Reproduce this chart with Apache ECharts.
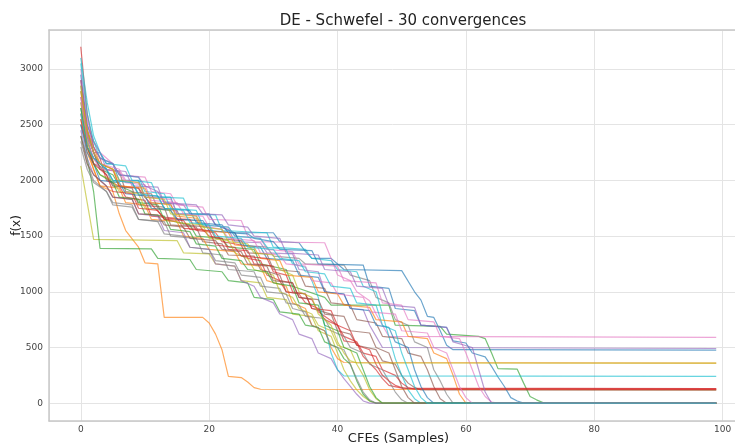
<!DOCTYPE html>
<html><head><meta charset="utf-8">
<script src="https://cdn.jsdelivr.net/npm/echarts@6/dist/echarts.min.js"></script>
<style>html,body{margin:0;padding:0;background:#fff}#c{width:735px;height:444px}</style>
</head><body><div id="c"></div>
<script>
const titleText = "DE - Schwefel - 30 convergences";
const xName = "CFEs (Samples)";
const yName = "f(x)";
const palette = ["#1f77b4","#ff7f0e","#2ca02c","#d62728","#9467bd","#8c564b","#e377c2","#7f7f7f","#bcbd22","#17becf"];

const s0 = [[0,2950],[1,2500],[2,2350],[4,2150],[5,2150],[6,2000],[9,2000],[10,1850],[14,1850],[15,1700],[20,1700],[21,1600],[24,1530],[30,1530],[31,1450],[34,1440],[35,1360],[36,1300],[39,1300],[41,1200],[50,1190],[52,1000],[53,925],[54,780],[55,770],[56,650],[57,520],[58,480],[99,476]];
const s1 = [[0,2600],[1,2300],[2,2100],[3,1950],[5,1900],[6,1700],[7,1550],[9,1400],[10,1260],[12,1250],[13,770],[19,770],[20,720],[21,620],[22,480],[23,240],[25,230],[26,190],[27,140],[28,125],[99,120]];
const s2 = [[0,2800],[1,2450],[2,2250],[3,2100],[5,2050],[6,1950],[8,1900],[9,1800],[12,1780],[13,1650],[17,1600],[18,1500],[22,1480],[23,1400],[27,1380],[28,1250],[32,1200],[33,1050],[38,950],[39,880],[48,880],[49,700],[56,690],[57,620],[62,600],[63,580],[64,450],[65,310],[68,305],[69,180],[70,60],[71,30],[72,5],[73,0],[99,0]];
const s3 = [[0,3200],[1,2600],[2,2300],[3,2200],[4,2000],[6,1950],[7,1850],[10,1820],[11,1680],[15,1660],[16,1570],[19,1560],[20,1500],[22,1480],[23,1380],[26,1370],[27,1250],[30,1230],[31,1100],[33,1080],[34,950],[36,930],[37,820],[40,700],[41,560],[43,540],[44,420],[46,300],[47,220],[48,160],[50,135],[99,130]];
const s4 = [[0,2700],[1,2400],[2,2250],[3,2250],[4,2100],[7,2080],[8,1950],[12,1940],[13,1800],[16,1780],[17,1700],[20,1690],[21,1600],[23,1560],[24,1450],[28,1440],[29,1350],[33,1340],[34,1200],[37,1180],[38,1000],[41,980],[42,850],[44,840],[45,700],[46,600],[47,500],[99,491]];
const s5 = [[0,2500],[1,2300],[2,2200],[4,2050],[5,1950],[8,1930],[9,1780],[13,1760],[14,1600],[18,1580],[19,1450],[22,1430],[23,1330],[27,1320],[28,1200],[31,1150],[32,1000],[35,980],[36,850],[39,800],[40,650],[42,620],[43,520],[46,480],[47,380],[49,350],[50,250],[51,180],[52,140],[53,120],[99,118]];
const s6 = [[0,3000],[1,2550],[2,2350],[3,2250],[5,2150],[6,2050],[10,2030],[11,1900],[14,1880],[15,1780],[19,1760],[20,1650],[25,1640],[26,1500],[27,1450],[38,1440],[39,1300],[40,1150],[42,1100],[43,1000],[45,920],[46,800],[47,700],[48,600],[99,590]];
const s7 = [[0,2850],[1,2400],[2,2150],[4,2100],[5,1950],[9,1930],[10,1800],[14,1790],[15,1650],[18,1640],[19,1550],[24,1530],[25,1420],[29,1400],[30,1320],[34,1300],[35,1250],[41,1240],[42,1150],[45,1100],[46,950],[48,900],[49,750],[51,700],[52,550],[54,500],[55,300],[56,200],[57,80],[58,0],[99,0]];
const s8 = [[0,2130],[1,1800],[2,1470],[15,1460],[16,1350],[20,1340],[21,1250],[24,1230],[25,1100],[28,1080],[29,950],[32,930],[33,800],[36,780],[37,650],[39,600],[40,450],[41,300],[42,200],[43,120],[44,60],[45,20],[46,0],[99,0]];
const s9 = [[0,3100],[1,2700],[2,2400],[3,2250],[4,2150],[7,2130],[8,2000],[11,1980],[12,1850],[16,1840],[17,1700],[21,1690],[22,1550],[29,1530],[30,1400],[35,1380],[36,1300],[39,1280],[40,1200],[43,1180],[44,1050],[46,1000],[47,800],[48,600],[49,400],[50,250],[51,120],[52,40],[53,0],[99,0]];
const s10 = [[0,2650],[1,2350],[2,2200],[4,2100],[5,2000],[8,1980],[9,1870],[12,1860],[13,1750],[17,1730],[18,1620],[22,1600],[23,1530],[26,1520],[27,1480],[30,1450],[31,1380],[36,1370],[37,1250],[44,1240],[45,1050],[48,1030],[49,850],[52,830],[53,700],[57,680],[58,560],[60,540],[61,450],[63,415],[64,330],[65,235],[66,150],[67,50],[68,20],[69,0],[99,0]];
const s11 = [[0,2550],[1,2250],[2,2100],[3,1950],[6,1930],[7,1800],[10,1780],[11,1650],[15,1630],[16,1500],[19,1480],[20,1380],[24,1360],[25,1250],[28,1230],[29,1100],[32,1050],[33,900],[35,850],[36,700],[38,650],[39,500],[40,400],[41,365],[99,360]];
const s12 = [[0,2400],[1,2200],[2,1900],[3,1390],[11,1385],[12,1300],[17,1290],[18,1200],[22,1180],[23,1100],[26,1080],[27,950],[30,930],[31,820],[34,800],[35,700],[37,680],[38,550],[40,500],[41,400],[42,350],[43,200],[44,80],[45,20],[46,0],[99,0]];
const s13 = [[0,2900],[1,2450],[2,2250],[3,2150],[5,2100],[6,1950],[9,1930],[10,1850],[13,1660],[17,1650],[18,1550],[21,1530],[22,1450],[25,1420],[26,1300],[28,1280],[29,1150],[31,1100],[32,1000],[34,980],[35,900],[37,850],[38,750],[40,700],[41,600],[43,550],[44,450],[46,420],[47,300],[49,250],[50,180],[51,140],[52,125],[99,123]];
const s14 = [[0,2450],[1,2200],[2,2050],[4,1950],[5,1850],[8,1830],[9,1700],[12,1680],[13,1550],[16,1530],[17,1400],[20,1380],[21,1250],[24,1230],[25,1100],[27,1050],[28,950],[30,900],[31,800],[33,750],[34,620],[36,580],[37,450],[39,400],[40,300],[41,220],[42,150],[43,80],[44,20],[45,0],[99,0]];
const s15 = [[0,2750],[1,2400],[2,2250],[3,2100],[6,2080],[7,1900],[11,1880],[12,1750],[15,1730],[16,1600],[20,1580],[21,1480],[25,1460],[26,1350],[29,1340],[30,1200],[34,1180],[35,1050],[38,1030],[39,900],[42,880],[43,750],[46,720],[47,600],[50,580],[51,450],[53,420],[54,300],[55,150],[56,40],[57,0],[99,0]];
const s16 = [[0,2600],[1,2350],[2,2200],[3,2100],[6,2080],[7,1980],[10,1960],[11,1820],[15,1800],[16,1700],[18,1680],[19,1600],[23,1580],[24,1500],[28,1480],[29,1380],[33,1360],[34,1250],[40,1230],[41,1100],[46,1080],[47,900],[50,880],[51,750],[55,730],[56,600],[59,580],[60,450],[61,300],[62,150],[63,60],[64,10],[65,0],[99,0]];
const s17 = [[0,2350],[1,2150],[2,2000],[4,1900],[5,1800],[8,1780],[9,1650],[13,1630],[14,1500],[18,1480],[19,1350],[22,1330],[23,1200],[27,1180],[28,1050],[31,1030],[32,900],[34,880],[35,780],[38,760],[39,650],[41,600],[42,500],[44,450],[45,350],[47,300],[48,200],[49,100],[50,30],[51,0],[99,0]];
const s18 = [[0,2700],[1,2350],[2,2150],[3,2050],[5,2000],[6,1900],[9,1880],[10,1750],[14,1730],[15,1620],[19,1600],[20,1480],[23,1460],[24,1350],[26,1300],[27,1200],[30,1150],[31,1000],[33,950],[34,850],[36,800],[37,700],[39,650],[40,520],[42,480],[43,350],[44,250],[45,120],[46,40],[47,0],[99,0]];
const s19 = [[0,3050],[1,2600],[2,2350],[3,2200],[5,2150],[6,2050],[9,2030],[10,1900],[13,1880],[14,1750],[18,1730],[19,1600],[23,1580],[24,1500],[28,1480],[29,1400],[32,1380],[33,1250],[35,1220],[36,1100],[37,950],[38,700],[39,450],[40,300],[41,245],[99,240]];
const s20 = [[0,2500],[1,2250],[2,2150],[3,2000],[6,1980],[7,1880],[10,1860],[11,1750],[14,1730],[15,1650],[19,1640],[20,1550],[24,1530],[25,1420],[28,1400],[29,1300],[33,1280],[34,1150],[37,1130],[38,1000],[41,980],[42,850],[45,830],[46,700],[48,680],[49,550],[51,500],[52,300],[53,150],[54,50],[55,0],[99,0]];
const s21 = [[0,2800],[1,2450],[2,2300],[3,2150],[5,2100],[6,1950],[10,1930],[11,1800],[14,1780],[15,1680],[18,1660],[19,1550],[23,1530],[24,1420],[27,1400],[28,1300],[31,1280],[32,1150],[36,1130],[37,1000],[40,980],[41,880],[45,860],[46,750],[50,730],[51,600],[54,580],[55,450],[57,400],[58,250],[59,80],[60,0],[99,0]];
const s22 = [[0,2650],[1,2300],[2,2150],[3,2050],[5,1980],[6,1850],[9,1830],[10,1700],[13,1680],[14,1560],[17,1540],[18,1430],[21,1410],[22,1300],[25,1280],[26,1200],[29,1180],[30,1080],[33,1050],[34,900],[37,880],[38,700],[40,650],[41,500],[43,450],[44,300],[45,150],[46,50],[47,0],[99,0]];
const s23 = [[0,2550],[1,2300],[2,2150],[4,2050],[5,1900],[8,1880],[9,1750],[12,1730],[13,1650],[16,1640],[17,1560],[20,1550],[21,1420],[24,1400],[25,1320],[29,1300],[30,1180],[32,1150],[33,1000],[35,980],[36,850],[39,830],[40,700],[42,650],[43,520],[45,480],[46,350],[47,250],[48,200],[49,160],[50,140],[51,130],[99,128]];
const s24 = [[0,2900],[1,2500],[2,2300],[3,2200],[5,2150],[6,2050],[9,2030],[10,1950],[12,1900],[13,1800],[18,1780],[19,1700],[22,1690],[23,1600],[26,1580],[27,1500],[31,1480],[32,1350],[37,1330],[38,1200],[42,1180],[43,1050],[47,1030],[48,880],[52,860],[53,700],[57,680],[58,550],[61,500],[62,300],[63,100],[64,0],[99,0]];
const s25 = [[0,2400],[1,2150],[2,2050],[4,1950],[5,1850],[8,1830],[9,1700],[12,1690],[13,1600],[16,1580],[17,1480],[21,1460],[22,1380],[25,1360],[26,1250],[29,1230],[30,1100],[33,1080],[34,950],[37,930],[38,800],[41,780],[42,650],[45,630],[46,500],[48,450],[49,300],[50,150],[51,50],[52,0],[99,0]];
const s26 = [[0,2750],[1,2400],[2,2250],[3,2150],[6,2100],[7,2000],[9,1980],[10,1850],[14,1830],[15,1700],[19,1680],[20,1580],[22,1560],[23,1480],[27,1460],[28,1350],[31,1330],[32,1250],[35,1230],[36,1100],[39,1080],[40,980],[44,950],[45,820],[49,800],[50,650],[54,630],[55,500],[57,450],[58,300],[59,150],[60,50],[61,0],[99,0]];
const s27 = [[0,2300],[1,2100],[2,1980],[4,1900],[5,1780],[8,1760],[9,1650],[12,1630],[13,1520],[16,1500],[17,1400],[20,1380],[21,1280],[24,1260],[25,1150],[28,1130],[29,1000],[32,980],[33,850],[35,820],[36,700],[38,650],[39,520],[41,480],[42,350],[43,220],[44,100],[45,30],[46,0],[99,0]];
const s28 = [[0,2850],[1,2450],[2,2250],[3,2150],[5,2100],[6,2000],[9,1980],[10,1850],[13,1830],[14,1700],[18,1680],[19,1580],[22,1560],[23,1450],[26,1430],[27,1350],[30,1330],[31,1200],[33,1150],[34,1000],[36,950],[37,800],[39,700],[40,550],[41,450],[42,380],[43,362],[99,360]];
const s29 = [[0,2600],[1,2300],[2,2200],[4,2100],[5,2000],[8,1980],[9,1880],[12,1860],[13,1750],[16,1730],[17,1620],[20,1600],[21,1500],[25,1480],[26,1400],[30,1380],[31,1300],[34,1280],[35,1180],[38,1160],[39,1050],[42,1030],[43,900],[46,880],[47,700],[49,650],[50,450],[51,300],[52,150],[53,50],[54,0],[99,0]];

const allSeries = [s0,s1,s2,s3,s4,s5,s6,s7,s8,s9,s10,s11,s12,s13,s14,s15,s16,s17,s18,s19,s20,s21,s22,s23,s24,s25,s26,s27,s28,s29];

const chart = echarts.init(document.getElementById('c'), null, {renderer:'canvas'});
const FONT = 'DejaVu Sans';
chart.setOption({
  animation:false,
  backgroundColor:'#fff',
  title:{text:titleText,left:398,top:9,textAlign:'center',textStyle:{fontFamily:FONT,fontSize:15,fontWeight:'normal',color:'#222'}},
  grid:{left:49,right:-13,top:30,bottom:23,containLabel:false,outerBoundsMode:'none'},
  xAxis:[{
    type:'value',min:-4.95,max:103.95,
    name:xName,nameLocation:'middle',nameGap:11,nameMoveOverlap:false,
    nameTextStyle:{fontFamily:FONT,fontSize:13,color:'#222'},
    axisLine:{show:true,onZero:false,lineStyle:{color:'#c8c8c8',width:1.5}},
    axisTick:{show:false},
    axisLabel:{fontFamily:FONT,fontSize:9,color:'#444',margin:4,
      formatter:v=>Math.abs(v/20-Math.round(v/20))<1e-6?String(Math.round(v)):''},
    splitLine:{show:true,lineStyle:{color:'#e4e4e4',width:1}}
  },{
    type:'value',position:'top',min:-4.95,max:103.95,
    axisLine:{show:true,onZero:false,lineStyle:{color:'#c8c8c8',width:1.5}},
    axisTick:{show:false},axisLabel:{show:false},splitLine:{show:false}
  }],
  yAxis:{
    type:'value',min:-160,max:3350,splitNumber:7,
    name:yName,nameLocation:'middle',nameGap:26,nameRotate:90,nameMoveOverlap:false,
    nameTextStyle:{fontFamily:FONT,fontSize:12,color:'#222'},
    axisLine:{show:true,onZero:false,lineStyle:{color:'#c8c8c8',width:1.5}},
    axisTick:{show:false},
    axisLabel:{fontFamily:FONT,fontSize:9,color:'#444',margin:6,
      formatter:v=>Math.abs(v/500-Math.round(v/500))<1e-6?String(Math.round(v)):''},
    splitLine:{show:true,lineStyle:{color:'#e4e4e4',width:1}}
  },
  series:allSeries.map((d,i)=>({
    type:'line',data:d,xAxisIndex:0,showSymbol:false,symbol:'none',
    lineStyle:{color:palette[i%10],width:1.2,opacity:0.65},
    itemStyle:{color:palette[i%10]},z:2
  }))
});
</script></body></html>
